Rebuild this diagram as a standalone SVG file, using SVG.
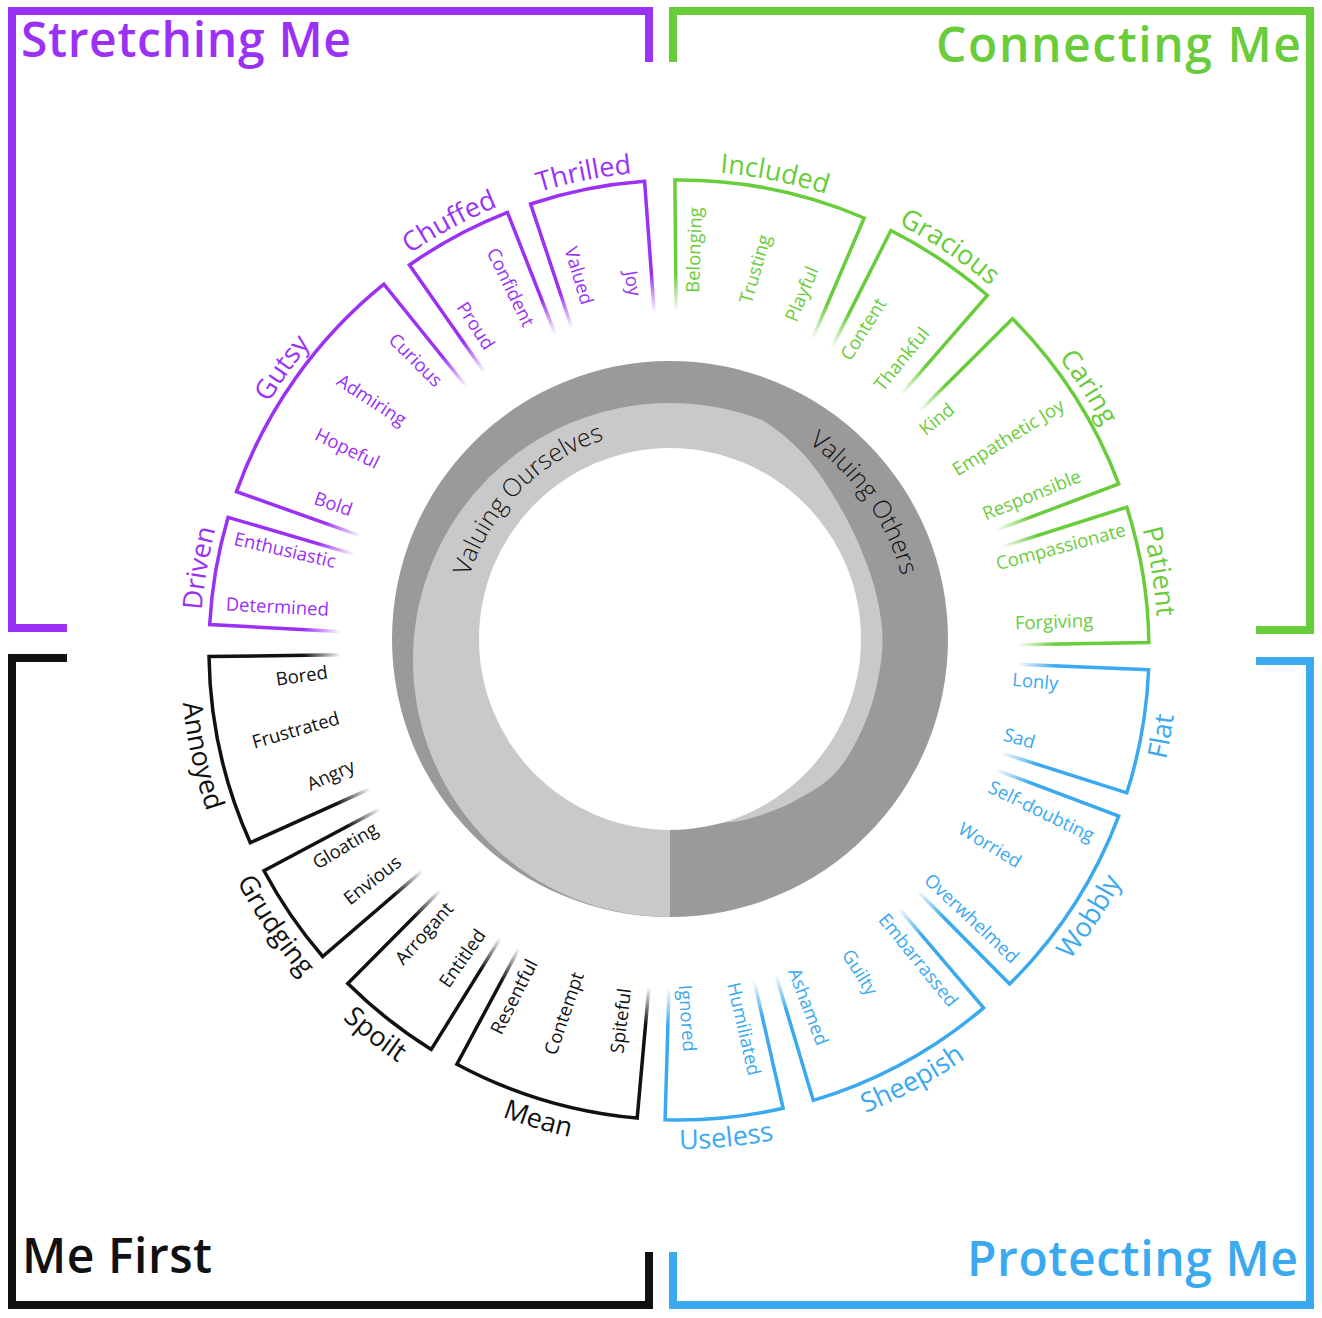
<svg xmlns="http://www.w3.org/2000/svg" width="1322" height="1318" viewBox="0 0 1322 1318">
<style>
.t{font-family:"Open Sans","Noto Sans","Liberation Sans",sans-serif}
.pu{fill:#9b31f5}.gr{fill:#69cc3b}.bl{fill:#3aa9ef}.bk{fill:#111}
.fpu{stroke:#9b31f5}.fgr{stroke:#69cc3b}.fbl{stroke:#3aa9ef}.fbk{stroke:#111}
.fr{fill:none;stroke-width:3.5;stroke-linejoin:miter}
.br{fill:none;stroke-width:8;stroke-linejoin:miter;stroke-linecap:butt}
.w{font-size:18.5px;font-weight:500;text-anchor:middle}
.cat{font-size:27px;font-weight:400;text-anchor:middle}
.ttl{font-size:48px;font-weight:600}
.ring{font-size:25px;font-weight:300;fill:#111;text-anchor:middle}
</style>
<defs>
<radialGradient id="fg" gradientUnits="userSpaceOnUse" cx="679" cy="650" r="470">
<stop offset="0" stop-color="#000"/><stop offset="0.72" stop-color="#000"/><stop offset="0.8" stop-color="#fff"/><stop offset="1" stop-color="#fff"/>
</radialGradient>
<mask id="fade" maskUnits="userSpaceOnUse" x="0" y="0" width="1322" height="1318"><rect width="1322" height="1318" fill="url(#fg)"/></mask>
<path id="arcU" d="M 371.1 283.1 A 479 479 0 0 1 986.9 283.1"/>
<path id="arcL" d="M 358.2 1032.3 A 499 499 0 0 0 999.8 1032.3"/>
<path id="ringIn" d="M 488.1 534 A 210 210 0 0 1 851.9 534"/>
<path id="ringOut" d="M 462.2 519 A 240 240 0 0 1 877.8 519"/>
</defs>
<rect width="1322" height="1318" fill="#fff"/>

<g id="quadrants">
<g id="q-stretching"><path class="br fpu" d="M 649 62 V 11 H 12 V 628 H 67"/><text class="t ttl pu" x="21" y="57" textLength="330" lengthAdjust="spacing">Stretching Me</text></g>
<g id="q-connecting"><path class="br fgr" d="M 673 62 V 11 H 1310 V 630 H 1256"/><text class="t ttl gr" x="936" y="62" textLength="365" lengthAdjust="spacing">Connecting Me</text></g>
<g id="q-mefirst"><path class="br fbk" d="M 67 658 H 12 V 1305 H 649 V 1252"/><text class="t ttl bk" x="22" y="1273" textLength="190" lengthAdjust="spacing">Me First</text></g>
<g id="q-protecting"><path class="br fbl" d="M 1256 661 H 1310 V 1305 H 673 V 1252"/><text class="t ttl bl" x="967" y="1276" textLength="331" lengthAdjust="spacing">Protecting Me</text></g>
</g>

<g id="ring">
<circle cx="670" cy="639" r="278" fill="#9a9a9a"/>
<path fill="#c9c9c9" d="M 670 917 A 257 257 0 0 1 413 660 A 257 257 0 0 1 670 403 A 257 257 0 0 1 762 420 C 775.5 428 792.5 441.7 806 457 C 819.5 472.3 832.7 493.7 843 512 C 853.3 530.3 861.8 550.2 868 567 C 874.2 583.8 877.7 598.7 880 613 C 882.3 627.3 883.2 636.3 882 653 C 880.2 669.5 876.5 692.3 869.3 711.7 C 862.1 731.1 851.1 754.4 838.5 769.4 C 825.9 784.4 808.7 793.1 793.5 801.4 C 778.3 809.7 759.9 815.4 747.6 819.1 C 735.4 822.8 729.6 822 720 823.3 L 670 780 L 670 917 Z"/>
<circle cx="670" cy="639" r="191" fill="#fff"/>
<text class="t ring" transform="rotate(-45.5 670 639)"><textPath href="#ringIn" startOffset="50%">Valuing Ourselves</textPath></text>
<text class="t ring" transform="rotate(55 670 639)"><textPath href="#ringOut" startOffset="50%">Valuing Others</textPath></text>
</g>

<g id="connectors">
<path class="fr fpu" mask="url(#fade)" d="M 343.5 631.8 L 209.7 624.6 A 470 470 0 0 1 228.1 517.3 L 356.7 555.1"/>
<path class="fr fpu" mask="url(#fade)" d="M 362.7 536.7 L 236.5 491.6 A 470 470 0 0 1 383.9 284.2 L 468 388.5"/>
<path class="fr fpu" mask="url(#fade)" d="M 486.3 374.8 L 409.4 265 A 470 470 0 0 1 507.5 212.4 L 556.4 337.2"/>
<path class="fr fpu" mask="url(#fade)" d="M 572.9 331.2 L 530.6 204 A 470 470 0 0 1 644.6 181.3 L 654.4 314.9"/>
<path class="fr fgr" mask="url(#fade)" d="M 676.1 314 L 674.9 180 A 470 470 0 0 1 864.2 218 L 811.4 341.2"/>
<path class="fr fgr" mask="url(#fade)" d="M 830.5 350.1 L 890.9 230.5 A 470 470 0 0 1 987.3 295.3 L 899.4 396.4"/>
<path class="fr fgr" mask="url(#fade)" d="M 917.4 413.2 L 1012.5 318.8 A 470 470 0 0 1 1118.7 483.9 L 993.3 531.2"/>
<path class="fr fgr" mask="url(#fade)" d="M 999.1 547.8 L 1126.8 507.1 A 470 470 0 0 1 1148.9 642.6 L 1015 644.7"/>
<path class="fr fbl" mask="url(#fade)" d="M 1014.7 664.1 L 1148.6 669.7 A 470 470 0 0 1 1126.8 792.9 L 999.1 752.2"/>
<path class="fr fbl" mask="url(#fade)" d="M 993.3 768.8 L 1118.7 816.1 A 470 470 0 0 1 1009.6 984.1 L 915.3 888.8"/>
<path class="fr fbl" mask="url(#fade)" d="M 896.8 905.9 L 983.6 1007.9 A 470 470 0 0 1 813.3 1100.4 L 775 972"/>
<path class="fr fbl" mask="url(#fade)" d="M 753.4 977.6 L 783.1 1108.3 A 470 470 0 0 1 665.1 1119.8 L 669 985.9"/>
<path class="fr fbk" mask="url(#fade)" d="M 649.1 984.7 L 637.2 1118.1 A 470 470 0 0 1 456.9 1064.2 L 520.2 946.1"/>
<path class="fr fbk" mask="url(#fade)" d="M 501.9 935.6 L 431.3 1049.4 A 470 470 0 0 1 347.8 983.5 L 442.2 888.4"/>
<path class="fr fbk" mask="url(#fade)" d="M 424.3 869.1 L 322.7 956.5 A 470 470 0 0 1 264 870.7 L 382.3 807.7"/>
<path class="fr fbk" mask="url(#fade)" d="M 372.5 787.7 L 250.3 842.7 A 470 470 0 0 1 209 656.6 L 343 654.7"/>
</g>

<g id="driven" class="t pu">
<text class="cat" transform="rotate(-80.3 679 650)"><textPath href="#arcU" startOffset="50%">Driven</textPath></text>
<text class="w" dy="0.35em" transform="translate(285 550) rotate(13)">Enthusiastic</text>
<text class="w" dy="0.35em" transform="translate(277.3 606.7) rotate(3)">Determined</text>
</g>
<g id="gutsy" class="t pu">
<text class="cat" transform="rotate(-54.6 679 650)"><textPath href="#arcU" startOffset="50%">Gutsy</textPath></text>
<text class="w" dy="0.35em" transform="translate(415.7 360) rotate(45)">Curious</text>
<text class="w" dy="0.35em" transform="translate(371.7 400) rotate(33)">Admiring</text>
<text class="w" dy="0.35em" transform="translate(347.3 448.3) rotate(26)">Hopeful</text>
<text class="w" dy="0.35em" transform="translate(333.3 504) rotate(19)">Bold</text>
</g>
<g id="chuffed" class="t pu">
<text class="cat" transform="rotate(-28.2 679 650)"><textPath href="#arcU" startOffset="50%">Chuffed</textPath></text>
<text class="w" dy="0.35em" transform="translate(510.7 287.3) rotate(64)">Confident</text>
<text class="w" dy="0.35em" transform="translate(475.7 325.7) rotate(57)">Proud</text>
</g>
<g id="thrilled" class="t pu">
<text class="cat" transform="rotate(-11.3 679 650)"><textPath href="#arcU" startOffset="50%">Thrilled</textPath></text>
<text class="w" dy="0.35em" transform="translate(579 275.7) rotate(73)">Valued</text>
<text class="w" dy="0.35em" transform="translate(632.7 283.3) rotate(80)">Joy</text>
</g>

<g id="included" class="t gr">
<text class="cat" transform="rotate(11.4 679 650)"><textPath href="#arcU" startOffset="50%">Included</textPath></text>
<text class="w" dy="0.35em" transform="translate(694 250) rotate(-88)">Belonging</text>
<text class="w" dy="0.35em" transform="translate(755 269) rotate(-74)">Trusting</text>
<text class="w" dy="0.35em" transform="translate(801.7 294) rotate(-67)">Playful</text>
</g>
<g id="gracious" class="t gr">
<text class="cat" transform="rotate(33.9 679 650)"><textPath href="#arcU" startOffset="50%">Gracious</textPath></text>
<text class="w" dy="0.35em" transform="translate(863.3 329) rotate(-58)">Content</text>
<text class="w" dy="0.35em" transform="translate(901.7 359) rotate(-51)">Thankful</text>
</g>
<g id="caring" class="t gr">
<text class="cat" transform="rotate(57.3 679 650)"><textPath href="#arcU" startOffset="50%">Caring</textPath></text>
<text class="w" dy="0.35em" transform="translate(936.7 419) rotate(-39)">Kind</text>
<text class="w" dy="0.35em" transform="translate(1008.3 437.3) rotate(-32)">Empathetic Joy</text>
<text class="w" dy="0.35em" transform="translate(1031.7 495) rotate(-22)">Responsible</text>
</g>
<g id="patient" class="t gr">
<text class="cat" transform="rotate(80.7 679 650)"><textPath href="#arcU" startOffset="50%">Patient</textPath></text>
<text class="w" dy="0.35em" transform="translate(1060.7 546.7) rotate(-15)">Compassionate</text>
<text class="w" dy="0.35em" transform="translate(1054 621.7) rotate(-2)">Forgiving</text>
</g>

<g id="flat" class="t bl">
<text class="cat" transform="rotate(-79.9 679 650)"><textPath href="#arcL" startOffset="50%">Flat</textPath></text>
<text class="w" dy="0.35em" transform="translate(1035.3 681.4) rotate(5)">Lonly</text>
<text class="w" dy="0.35em" transform="translate(1019.3 738.3) rotate(16)">Sad</text>
</g>
<g id="wobbly" class="t bl">
<text class="cat" transform="rotate(-57 679 650)"><textPath href="#arcL" startOffset="50%">Wobbly</textPath></text>
<text class="w" dy="0.35em" transform="translate(1041.4 811.2) rotate(26)">Self-doubting</text>
<text class="w" dy="0.35em" transform="translate(990 845) rotate(31)">Worried</text>
<text class="w" dy="0.35em" transform="translate(971.7 918.3) rotate(43)">Overwhelmed</text>
</g>
<g id="sheepish" class="t bl">
<text class="cat" transform="rotate(-28.5 679 650)"><textPath href="#arcL" startOffset="50%">Sheepish</textPath></text>
<text class="w" dy="0.35em" transform="translate(918.3 960) rotate(51)">Embarrassed</text>
<text class="w" dy="0.35em" transform="translate(860 972.3) rotate(58)">Guilty</text>
<text class="w" dy="0.35em" transform="translate(808.3 1006.7) rotate(69)">Ashamed</text>
</g>
<g id="useless" class="t bl">
<text class="cat" transform="rotate(-5.5 679 650)"><textPath href="#arcL" startOffset="50%">Useless</textPath></text>
<text class="w" dy="0.35em" transform="translate(744 1029) rotate(77)">Humiliated</text>
<text class="w" dy="0.35em" transform="translate(687.3 1018.3) rotate(86)">Ignored</text>
</g>

<g id="mean" class="t bk">
<text class="cat" transform="rotate(16.7 679 650)"><textPath href="#arcL" startOffset="50%">Mean</textPath></text>
<text class="w" dy="0.35em" transform="translate(620.7 1020.7) rotate(-83)">Spiteful</text>
<text class="w" dy="0.35em" transform="translate(564 1013.3) rotate(-71)">Contempt</text>
<text class="w" dy="0.35em" transform="translate(514 996.7) rotate(-63)">Resentful</text>
</g>
<g id="spoilt" class="t bk">
<text class="cat" transform="rotate(38.3 679 650)"><textPath href="#arcL" startOffset="50%">Spoilt</textPath></text>
<text class="w" dy="0.35em" transform="translate(462.3 958.3) rotate(-55)">Entitled</text>
<text class="w" dy="0.35em" transform="translate(424 933.3) rotate(-48)">Arrogant</text>
</g>
<g id="grudging" class="t bk">
<text class="cat" transform="rotate(55.7 679 650)"><textPath href="#arcL" startOffset="50%">Grudging</textPath></text>
<text class="w" dy="0.35em" transform="translate(372.3 880) rotate(-38)">Envious</text>
<text class="w" dy="0.35em" transform="translate(345 845.7) rotate(-31)">Gloating</text>
</g>
<g id="annoyed" class="t bk">
<text class="cat" transform="rotate(77.5 679 650)"><textPath href="#arcL" startOffset="50%">Annoyed</textPath></text>
<text class="w" dy="0.35em" transform="translate(330.7 775) rotate(-24)">Angry</text>
<text class="w" dy="0.35em" transform="translate(295.7 730) rotate(-16)">Frustrated</text>
<text class="w" dy="0.35em" transform="translate(301.7 675.7) rotate(-8)">Bored</text>
</g>
</svg>
